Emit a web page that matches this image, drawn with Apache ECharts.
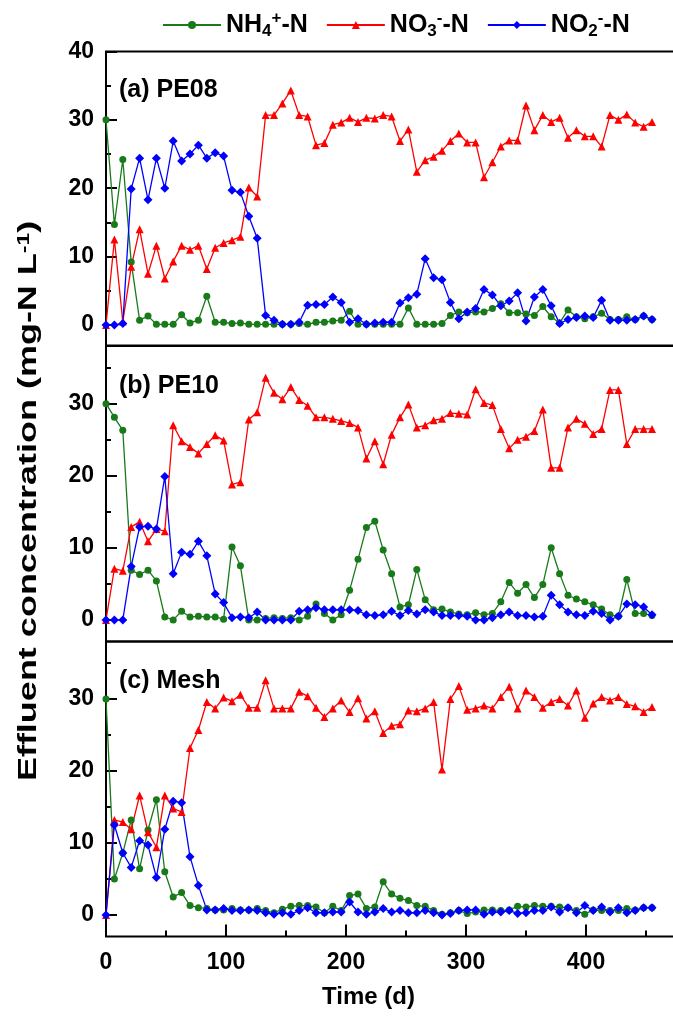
<!DOCTYPE html>
<html>
<head>
<meta charset="utf-8">
<script src="https://cdn.jsdelivr.net/npm/echarts@6/dist/echarts.min.js"></script>
<style>
  html, body { margin: 0; padding: 0; background: #fff; }
  #chart { width: 673px; height: 1019px; }
</style>
</head>
<body>
<div id="chart"></div>
<script>
// sampling days (weekly)
const days = [0,7,14,21,28,35,42,49,56,63,70,77,84,91,98,105,112,119,126,133,140,147,154,161,168,175,182,189,196,203,210,217,224,231,238,245,252,259,266,273,280,287,294,301,308,315,322,329,336,343,350,357,364,371,378,385,392,399,406,413,420,427,434,441,448,455];

// (a) PE08
const nh4A = [30.0,14.7,24.2,9.2,0.7,1.3,0.1,0.1,0.1,1.5,0.3,0.7,4.2,0.4,0.4,0.2,0.3,0.1,0.1,0.1,0.1,
  0.1,0.1,0.2,0.1,0.4,0.4,0.6,0.7,2.0,0.1,0.1,0.1,0.1,0.1,0.1,2.5,0.1,0.1,0.1,0.2,1.4,1.9,1.8,1.9,
  1.9,2.4,3.1,1.8,1.8,1.6,1.4,2.7,1.2,0.3,2.2,1.2,0.9,1.2,1.7,0.8,0.8,1.2,0.8,1.3,0.8];
const no3A = [0,12.5,0.5,8.5,14.0,7.5,11.6,6.8,9.3,11.6,11.0,11.6,8.2,11.3,12.0,12.4,12.9,20.1,18.8,30.7,30.7,
  32.4,34.3,30.7,30.5,26.3,26.6,29.3,29.6,30.3,29.7,30.3,30.2,30.7,30.5,26.9,28.6,22.4,24.1,24.6,25.5,26.9,28.0,26.7,26.7,
  21.6,23.8,26.1,27.0,27.0,32.1,28.5,30.7,29.7,30.3,27.4,28.5,27.6,27.6,26.1,30.7,30.0,30.8,29.6,29.0,29.7];
const no2A = [0,0,0.2,19.9,24.4,18.3,24.4,20.0,26.9,24.0,25.0,26.3,24.4,25.2,24.7,19.7,19.4,15.9,12.7,1.4,0.7,
  0.1,0.1,0.4,2.9,3.0,3.0,4.1,3.3,0.4,0.9,0.1,0.3,0.4,0.4,3.2,4.0,4.5,9.7,6.9,6.6,3.3,0.9,1.9,2.4,
  5.2,4.4,2.8,3.5,4.7,0.6,4.1,5.2,2.8,0.2,0.8,1.1,1.3,1.1,3.6,0.7,0.7,0.7,0.8,1.3,0.8];

// (b) PE10
const nh4B = [30.0,28.1,26.3,6.9,6.3,6.9,5.4,0.4,0,1.2,0.4,0.5,0.4,0.4,0.1,10.1,7.5,0,0,0.2,0.3,
  0.2,0.3,0,0.5,2.2,0.9,0,0.7,4.1,8.4,12.8,13.7,9.7,6.4,1.8,2.1,7.0,2.8,1.4,1.5,1.1,0.8,0.7,1.0,
  0.7,0.9,2.5,5.2,3.7,4.9,3.1,4.9,10.0,6.4,3.4,2.9,2.5,2.1,1.5,0.7,0.5,5.6,0.9,0.9,0.6];
const no3B = [0,7.1,6.8,12.9,13.6,10.9,12.6,12.3,27.0,24.8,24.0,23.1,24.4,25.6,24.9,18.8,19.1,27.8,28.8,33.6,31.5,
  30.6,32.3,30.5,29.7,28.1,28.1,27.9,27.6,27.3,26.7,22.4,24.8,21.6,25.7,28.1,29.9,26.7,27.0,27.7,27.9,28.7,28.6,28.5,32.0,
  30.1,29.8,26.5,23.8,25.0,25.4,26.2,29.2,21.1,21.1,26.7,27.9,27.2,25.8,26.5,31.9,31.9,24.4,26.5,26.5,26.5];
const no2B = [0,0,0,7.4,12.9,13.0,12.6,19.9,6.4,9.4,9.1,10.9,8.9,3.6,2.4,0.3,0.4,0.3,1.1,0,0,
  0,0,1.2,1.4,1.7,1.4,1.4,1.4,1.4,1.3,0.7,0.6,0.7,1.2,0.6,1.3,0.8,1.4,1.1,0.6,0.6,0.6,0.5,0,
  0,0.3,0.7,1.1,0.6,0.6,0.4,0.5,3.4,2.1,1.1,0.7,0.6,1.2,0.9,0,0.5,2.2,2.1,1.8,0.7];

// (c) Mesh
const nh4C = [30.0,5.0,8.6,13.2,6.4,11.8,16.0,6.0,2.5,3.1,1.3,1.0,0.9,0.7,0.7,0.9,0.7,0.7,0.9,0.6,0.3,
  0.8,1.2,1.3,1.3,1.1,0.3,1.2,0.6,2.7,2.9,0.9,1.1,4.6,2.9,2.3,2.0,1.3,1.2,0.6,0.1,0.3,0.6,0.2,0.4,
  0.7,0.7,0.6,0.7,1.2,1.1,1.3,1.2,1.2,1.1,1.0,0.6,0.1,0.7,0.6,0.6,0.6,0.9,0.7,1.0,1.0];
const no3C = [0,13.2,12.9,11.9,16.6,11.5,9.4,16.6,14.8,14.3,23.2,25.7,29.6,28.7,30.2,29.7,30.6,28.8,28.8,32.6,28.7,
  28.7,28.7,31.0,30.4,28.8,27.5,28.7,29.8,28.2,30.1,27.3,28.3,25.3,26.3,26.5,28.4,28.3,28.7,29.6,20.2,30.0,31.8,28.5,28.7,
  29.1,28.7,30.3,31.7,28.7,31.2,30.3,28.8,29.6,30.0,29.1,31.2,27.4,29.4,30.3,29.8,30.3,29.3,29.0,28.2,28.9];
const no2C = [0,12.5,8.6,6.6,10.3,9.7,5.2,11.9,15.8,15.6,8.1,4.1,0.7,0.7,0.9,0.6,0.6,0.7,0.6,0.3,0.1,
  0.3,0.1,0.6,1.0,0.3,0.3,0.4,0.4,1.8,0.4,0.1,0.4,0.9,0.4,0.6,0.3,0.3,0.6,0.3,0,0.2,0.6,0.7,0.7,
  0.1,0.4,0.4,0.6,0.2,0.3,0.6,0.6,1.1,0.4,1.0,0.3,1.3,0.6,1.1,0.4,1.0,0.3,0.6,1.0,1.0];

const panelNames = ['(a) PE08', '(b) PE10', '(c) Mesh'];
const xTicks = [0, 100, 200, 300, 400];
const xMinor = [50, 150, 250, 350, 450];

const chart = echarts.init(document.getElementById('chart'));
const FONT = 'Liberation Sans, Arial, sans-serif';

const panels = [
  { nh4: nh4A, no3: no3A, no2: no2A, yMax: 40, yTicks: [0,10,20,30,40], yMinor: [5,15,25,35] },
  { nh4: nh4B, no3: no3B, no2: no2B, yMax: 38, yTicks: [0,10,20,30], yMinor: [5,15,25,35] },
  { nh4: nh4C, no3: no3C, no2: no2C, yMax: 38, yTicks: [0,10,20,30], yMinor: [5,15,25,35] }
];

// plot boxes run off the right edge like in the cropped figure
const gridBoxes = [
  { top: 51.5, height: 294 },
  { top: 346, height: 295.5 },
  { top: 641.5, height: 295 }
];

const seriesDefs = [
  { name: 'NH4+-N', key: 'nh4', color: '#197a19', symbol: 'circle', size: 7 },
  { name: 'NO3--N', key: 'no3', color: '#ff0000', symbol: 'triangle', size: 8 },
  { name: 'NO2--N', key: 'no2', color: '#0000ff', symbol: 'diamond', size: 9 }
];
const legendRich = {
  'NH4+-N': 'NH{sub|4}{sup|+}-N',
  'NO3--N': 'NO{sub|3}{sup|-}-N',
  'NO2--N': 'NO{sub|2}{sup|-}-N'
};

const tickLine = { color: '#000', width: 2 };
const grid = [], xAxis = [], yAxis = [], series = [];
panels.forEach((p, g) => {
  grid.push({
    left: 106, top: gridBoxes[g].top, width: 600, height: gridBoxes[g].height,
    outerBoundsMode: 'none', containLabel: false,
    show: true, borderColor: '#000', borderWidth: 2
  });
  const last = g === 2;
  xAxis.push({
    type: 'value', gridIndex: g, min: 0, max: 500, position: 'bottom',
    axisLine: { show: false, onZero: false },
    splitLine: { show: false },
    axisTick: last ? { show: true, inside: true, length: 12, customValues: xTicks, lineStyle: tickLine } : { show: false },
    axisLabel: last ? { show: true, customValues: xTicks, margin: 15, fontSize: 23, fontWeight: 'bold', fontFamily: FONT, color: '#000' } : { show: false }
  });
  if (last) {
    xAxis.push({
      type: 'value', gridIndex: g, min: 0, max: 500, position: 'bottom',
      axisLine: { show: false, onZero: false }, splitLine: { show: false }, axisLabel: { show: false },
      axisTick: { show: true, inside: true, length: 6, customValues: xMinor, lineStyle: tickLine }
    });
  }
  yAxis.push({
    type: 'value', gridIndex: g, min: -3, max: p.yMax, position: 'left',
    axisLine: { show: false, onZero: false }, splitLine: { show: false },
    axisTick: { show: true, inside: true, length: 11, customValues: p.yTicks, lineStyle: tickLine },
    axisLabel: { show: true, customValues: p.yTicks, margin: 12, fontSize: 23, fontWeight: 'bold', fontFamily: FONT, color: '#000' }
  });
  yAxis.push({
    type: 'value', gridIndex: g, min: -3, max: p.yMax, position: 'left',
    axisLine: { show: false, onZero: false }, splitLine: { show: false }, axisLabel: { show: false },
    axisTick: { show: true, inside: true, length: 5, customValues: p.yMinor, lineStyle: tickLine }
  });
  const xi = xAxis.length - (last ? 2 : 1);
  const yi = yAxis.length - 2;
  seriesDefs.forEach(s => {
    series.push({
      name: s.name, type: 'line',
      xAxisIndex: xi, yAxisIndex: yi,
      data: days.map((d, i) => [d, p[s.key][i]]),
      symbol: s.symbol, symbolSize: s.size, showSymbol: true,
      itemStyle: { color: s.color },
      lineStyle: { color: s.color, width: 1.3 }
    });
  });
});

const option = {
  animation: false,
  backgroundColor: '#fff',
  legend: {
    data: seriesDefs.map(s => s.name),
    left: 157, top: 5,
    itemWidth: 58, itemHeight: 10, itemGap: 18,
    formatter: name => legendRich[name],
    textStyle: {
      fontSize: 25, fontWeight: 'bold', fontFamily: FONT, color: '#000', lineHeight: 30,
      rich: {
        sub: { fontSize: 17, fontWeight: 'bold', fontFamily: FONT, color: '#000', verticalAlign: 'bottom', lineHeight: 16 },
        sup: { fontSize: 17, fontWeight: 'bold', fontFamily: FONT, color: '#000', verticalAlign: 'top', lineHeight: 16 }
      }
    }
  },
  grid: grid,
  xAxis: xAxis,
  yAxis: yAxis,
  series: series,
  graphic: [
    { type: 'text', left: 119, top: 78, style: { text: panelNames[0], font: 'bold 25px ' + FONT, fill: '#000' } },
    { type: 'text', left: 119, top: 374, style: { text: panelNames[1], font: 'bold 25px ' + FONT, fill: '#000' } },
    { type: 'text', left: 119, top: 669, style: { text: panelNames[2], font: 'bold 25px ' + FONT, fill: '#000' } },
    { type: 'text', left: 322, top: 985, style: { text: 'Time (d)', font: 'bold 24px ' + FONT, fill: '#000' } },
    {
      type: 'text', x: 29, y: 501, rotation: Math.PI / 2, scaleX: 1.2, scaleY: 0.85,
      style: {
        text: 'Effluent concentration (mg-N L{sup|-1})',
        font: 'bold 30px ' + FONT, fill: '#000', align: 'center', verticalAlign: 'middle',
        rich: { sup: { font: 'bold 19px ' + FONT, fill: '#000', verticalAlign: 'top' } }
      }
    }
  ]
};

chart.setOption(option);
</script>
</body>
</html>
